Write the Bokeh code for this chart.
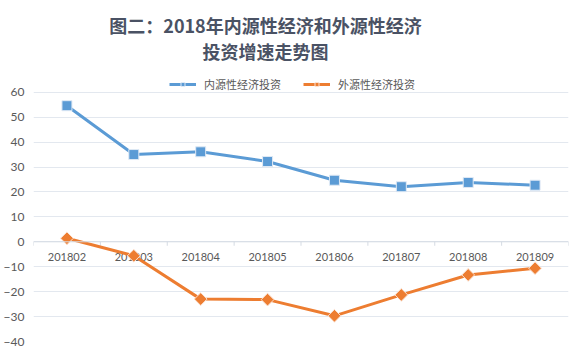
from bokeh.plotting import figure
from bokeh.models import FactorRange, Range1d, Legend, LegendItem, Label, Span
from bokeh.embed import file_html
from bokeh.resources import INLINE
from bokeh.core.properties import value
import math

months = ["201802", "201803", "201804", "201805", "201806", "201807", "201808", "201809"]
internal = [54.6, 35.0, 36.1, 32.2, 24.7, 22.1, 23.8, 22.7]
external = [1.4, -5.6, -23.0, -23.2, -29.7, -21.3, -13.3, -10.6]
y_ticks = [-40, -30, -20, -10, 0, 10, 20, 30, 40, 50, 60]
series_names = ["内源性经济投资", "外源性经济投资"]
title_lines = ["图二：2018年内源性经济和外源性经济", "投资增速走势图"]

BLUE = "#5B9BD5"
ORANGE = "#ED7D31"
TXT = "#595959"
TITLE_C = "#4a5264"
CJK = "Noto Sans CJK SC"
NUM = "Lato"

# headroom above the top tick so the title & legend fit inside the frame
Y_TOP = 96.8

p = figure(width=570, height=348,
           x_range=FactorRange(*months), y_range=Range1d(y_ticks[0], Y_TOP),
           output_backend="svg", toolbar_location=None, x_axis_location=None,
           min_border_left=0, min_border_right=2, min_border_bottom=7, min_border_top=0)
p.outline_line_color = None
p.background_fill_color = "white"
p.border_fill_color = "white"

# y axis
p.yaxis.ticker = y_ticks
p.yaxis.axis_line_color = None
p.yaxis.major_tick_line_color = None
p.yaxis.minor_tick_line_color = None
p.yaxis.major_tick_out = 0
p.yaxis.major_tick_in = 0
p.yaxis.major_label_text_font = NUM
p.yaxis.major_label_text_font_size = "12px"
p.yaxis.major_label_text_color = TXT
p.yaxis.major_label_standoff = 9

p.xgrid.grid_line_color = None
p.ygrid.ticker = y_ticks
p.ygrid.grid_line_color = "#e3e8ef"
p.ygrid.grid_line_width = 1

# zero axis line
p.add_layout(Span(location=0, dimension="width", line_color="#d5dbe3", line_width=1))

# category tick marks at zero line (boundaries between categories)
bounds = list(range(0, len(months) + 1))
tick_len = 1.6
p.segment(x0=bounds, y0=[0] * len(bounds), x1=bounds, y1=[-tick_len] * len(bounds),
          line_color="#d5dbe3", line_width=1)

# category labels just below the zero line
p.text(x=months, y=[0] * len(months), text=months, text_align="center", text_baseline="middle",
       y_offset=15, text_font=value(NUM), text_font_size="11px", text_color=TXT)

l1 = p.line(months, internal, line_color=BLUE, line_width=3)
# small markers (used for the legend swatch), hidden under the big ones
lg1 = p.scatter(months, internal, marker="square", size=6, fill_color=BLUE, line_color="#dfe9f5")
m1 = p.scatter(months, internal, marker="square", size=10, fill_color=BLUE,
               line_color="#dfe9f5", line_width=1)
l2 = p.line(months, external, line_color=ORANGE, line_width=3)
lg2 = p.scatter(months, external, marker="square", angle=math.pi / 4, size=5, fill_color=ORANGE,
                line_color="#fbe2d2")
m2 = p.scatter(months, external, marker="square", angle=math.pi / 4, size=9, fill_color=ORANGE,
               line_color="#fbe2d2", line_width=1)

legend = Legend(items=[LegendItem(label=series_names[0], renderers=[l1, lg1]),
                       LegendItem(label=series_names[1], renderers=[l2, lg2])],
                orientation="horizontal", location=(136, 249),
                label_text_font=CJK, label_text_font_size="11px", label_text_color=TXT,
                glyph_width=27, glyph_height=10, spacing=22, label_standoff=8,
                border_line_color=None, background_fill_alpha=0, padding=2, margin=0)
p.add_layout(legend, "center")

for txt, ypos in zip(title_lines, [317, 291]):
    p.add_layout(Label(x=232, y=ypos, x_units="screen", y_units="screen", text=txt,
                       text_align="center", text_baseline="middle", text_font=CJK,
                       text_font_size="18px", text_font_style="bold", text_color=TITLE_C))

open("out.html", "w").write(file_html(p, INLINE))
